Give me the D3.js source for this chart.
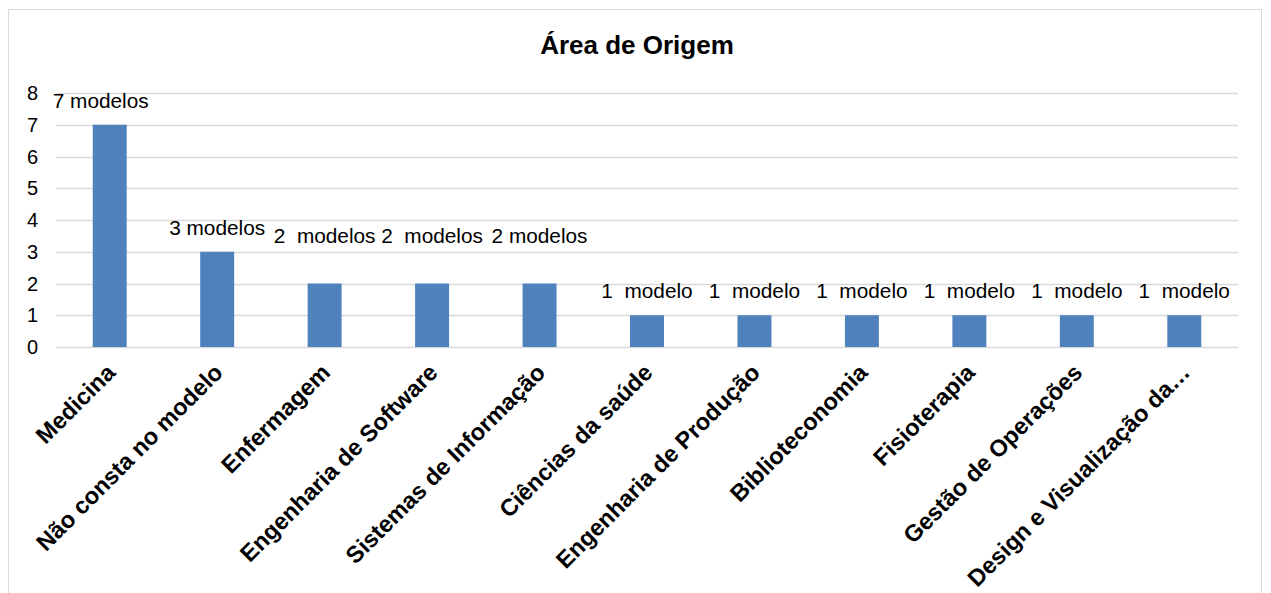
<!DOCTYPE html>
<html><head><meta charset="utf-8">
<script src="https://cdn.jsdelivr.net/npm/d3@7"></script>
<style>body{margin:0;background:#fff}text{font-family:"Liberation Sans",Arial,sans-serif}</style>
</head><body><svg id="c" width="1271" height="593"></svg>
<script>
const categories = ["Medicina","Não consta no modelo","Enfermagem","Engenharia de Software","Sistemas de Informação","Ciências da saúde","Engenharia de Produção","Biblioteconomia","Fisioterapia","Gestão de Operações","Design e Visualização da…"];
const values = [7,3,2,2,2,1,1,1,1,1,1];
const labels = ["7 modelos","3 modelos","2  modelos","2  modelos","2 modelos","1  modelo","1  modelo","1  modelo","1  modelo","1  modelo","1  modelo"];
const yTicks = [0,1,2,3,4,5,6,7,8];
const title = "Área de Origem";

const svg = d3.select("#c");
svg.append("rect").attr("x",8.5).attr("y",9.5).attr("width",1253).attr("height",600)
  .attr("fill","#fff").attr("stroke","#d9d9d9");

const x = d3.scaleBand().domain(categories).range([56,1238]).paddingInner(0.684).paddingOuter(0.342);
const y = d3.scaleLinear().domain([0,8]).range([347,93]);

svg.append("text").attr("x",637).attr("y",54).attr("text-anchor","middle")
  .attr("font-size",26).attr("font-weight","bold").text(title);

svg.append("g").selectAll("line").data(yTicks).join("line")
  .attr("x1",56).attr("x2",1238).attr("y1",d=>Math.round(y(d))+0.5).attr("y2",d=>Math.round(y(d))+0.5)
  .attr("stroke","#d9d9d9").attr("stroke-width",1.3);

svg.append("g").selectAll("text").data(yTicks).join("text")
  .attr("x",38).attr("y",d=>y(d)+7).attr("text-anchor","end").attr("font-size",20).text(d=>d);

svg.append("g").selectAll("rect").data(values).join("rect")
  .attr("x",(d,i)=>x(categories[i])).attr("width",x.bandwidth())
  .attr("y",d=>y(d)).attr("height",d=>y(0)-y(d)).attr("fill","#4f81bd");

// data labels (in the original, value-2 labels were lifted and the top label nudged left)
svg.append("g").selectAll("text").data(values).join("text")
  .attr("x",(d,i)=>x(categories[i])+x.bandwidth()/2 - (i===0 ? 9 : 0))
  .attr("y",(d,i)=> d===2 ? y(d)-41 : y(d)-17)
  .attr("text-anchor","middle").attr("font-size",20.8).style("white-space","pre")
  .text((d,i)=>labels[i]);

svg.append("g").selectAll("text").data(categories).join("text")
  .attr("transform",d=>`translate(${x(d)+x.bandwidth()/2+7},${374}) rotate(-45)`)
  .attr("text-anchor","end").attr("font-size",23.5).attr("font-weight","bold").text(d=>d);
</script></body></html>
